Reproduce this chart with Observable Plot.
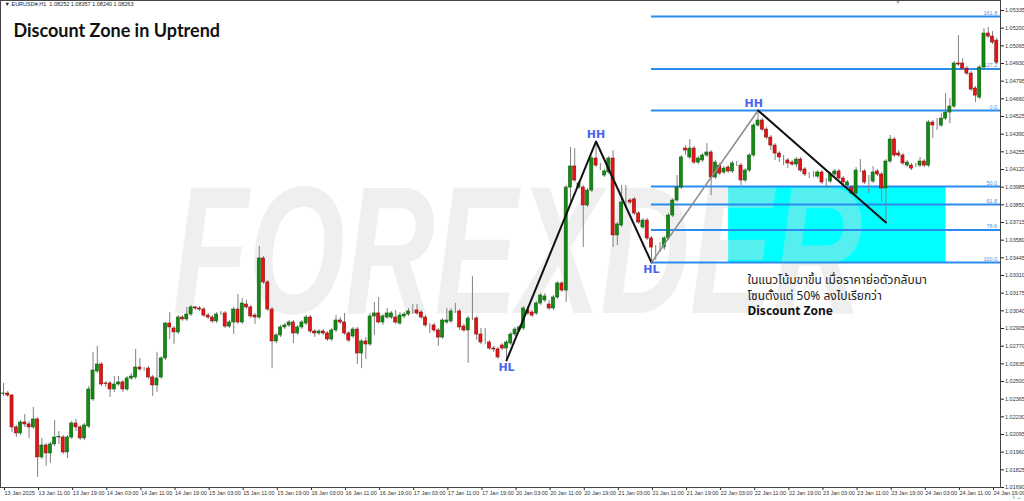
<!DOCTYPE html>
<html><head><meta charset="utf-8">
<script src="https://cdn.jsdelivr.net/npm/d3@7"></script>
<script src="https://cdn.jsdelivr.net/npm/@observablehq/plot@0.6"></script>
<style>
body{margin:0;background:#fff;}
#wrap{width:1024px;height:501px;overflow:hidden;}
</style></head><body><div id="wrap"></div>
<script>
// EURUSD H1 candles, bar index 0 = 13 Jan 03:00
const open=[1.02404,1.02408,1.02393,1.02149,1.02103,1.02187,1.02172,1.02149,1.02210,1.01920,1.02011,1.01950,1.02019,1.02072,1.02072,1.01958,1.02072,1.02179,1.02149,1.02065,1.02156,1.02363,1.02577,1.02630,1.02485,1.02485,1.02439,1.02477,1.02493,1.02439,1.02523,1.02531,1.02607,1.02592,1.02599,1.02531,1.02470,1.02531,1.02676,1.02943,1.02905,1.02875,1.02989,1.02974,1.03012,1.03066,1.03058,1.03050,1.03004,1.02989,1.02959,1.03020,1.03020,1.02920,1.02951,1.03050,1.02951,1.03088,1.03066,1.03004,1.02989,1.03440,1.03257,1.03050,1.02806,1.02852,1.02913,1.02928,1.02951,1.02867,1.02913,1.02943,1.02989,1.02882,1.02867,1.02882,1.02867,1.02821,1.02890,1.02966,1.02951,1.02867,1.02844,1.02897,1.02714,1.02806,1.02783,1.02997,1.03020,1.02951,1.02989,1.02989,1.02989,1.02943,1.02997,1.03012,1.03035,1.03043,1.03027,1.02989,1.02928,1.02928,1.02890,1.02836,1.02951,1.02959,1.03035,1.03035,1.02920,1.02890,1.02981,1.02981,1.02859,1.02798,1.02798,1.02752,1.02745,1.02775,1.02752,1.02790,1.02859,1.02890,1.02905,1.03043,1.03027,1.03020,1.03096,1.03119,1.03088,1.03058,1.03142,1.03249,1.03195,1.03982,1.04143,1.03982,1.03982,1.03845,1.03959,1.04204,1.04150,1.04074,1.04097,1.04204,1.03616,1.03692,1.03868,1.03883,1.03891,1.03784,1.03677,1.03730,1.03593,1.03516,1.03539,1.03524,1.03593,1.03768,1.03883,1.03982,1.04280,1.04212,1.04280,1.04173,1.04189,1.04227,1.04250,1.04059,1.04150,1.04097,1.04135,1.04105,1.04166,1.04150,1.04036,1.04112,1.04227,1.04456,1.04494,1.04425,1.04364,1.04303,1.04242,1.04196,1.04189,1.04173,1.04158,1.04196,1.04120,1.04074,1.04082,1.04066,1.04097,1.04036,1.04028,1.04082,1.04105,1.04051,1.03998,1.03982,1.03936,1.04112,1.04105,1.04028,1.04028,1.04105,1.04082,1.03975,1.04181,1.04349,1.04242,1.04227,1.04150,1.04150,1.04150,1.04150,1.04181,1.04150,1.04479,1.04464,1.04456,1.04509,1.04555,1.04601,1.04930,1.04930,1.04891,1.04853,1.04739,1.04670,1.04899,1.05159,1.05136,1.05105];
const high=[1.02485,1.02424,1.02401,1.02164,1.02202,1.02248,1.02195,1.02302,1.02225,1.02065,1.02026,1.02034,1.02202,1.02118,1.02088,1.02088,1.02195,1.02210,1.02164,1.02179,1.02462,1.02722,1.02768,1.02645,1.02500,1.02500,1.02538,1.02538,1.02508,1.02538,1.02561,1.02745,1.02676,1.02607,1.02615,1.02546,1.02722,1.02691,1.02951,1.03027,1.02920,1.03004,1.03004,1.03066,1.03081,1.03073,1.03073,1.03066,1.03020,1.03004,1.03027,1.03035,1.03035,1.02966,1.03066,1.03165,1.03134,1.03119,1.03081,1.03020,1.03532,1.03455,1.03272,1.03066,1.02867,1.02928,1.02943,1.02966,1.02966,1.02928,1.02966,1.03004,1.03004,1.02897,1.02897,1.02897,1.02882,1.02905,1.03004,1.02989,1.03020,1.02882,1.02913,1.02913,1.02821,1.02836,1.03020,1.03104,1.03142,1.03012,1.03058,1.03035,1.03043,1.03027,1.03027,1.03058,1.03088,1.03088,1.03043,1.03004,1.02943,1.02943,1.02905,1.02981,1.03058,1.03058,1.03096,1.03050,1.02936,1.02997,1.03302,1.02997,1.02905,1.02905,1.02813,1.02768,1.02760,1.02790,1.02813,1.02875,1.02913,1.02928,1.03073,1.03073,1.03043,1.03111,1.03172,1.03172,1.03119,1.03157,1.03264,1.03264,1.03998,1.04288,1.04280,1.04028,1.03998,1.03975,1.04219,1.04334,1.04166,1.04120,1.04219,1.04265,1.03715,1.03998,1.03998,1.03898,1.03906,1.03799,1.03745,1.03745,1.03608,1.03539,1.03562,1.03608,1.03784,1.03898,1.04074,1.04227,1.04303,1.04349,1.04296,1.04219,1.04242,1.04318,1.04265,1.04189,1.04166,1.04143,1.04150,1.04181,1.04181,1.04166,1.04127,1.04242,1.04471,1.04571,1.04509,1.04441,1.04380,1.04318,1.04257,1.04227,1.04204,1.04189,1.04212,1.04212,1.04135,1.04097,1.04105,1.04112,1.04112,1.04051,1.04097,1.04120,1.04120,1.04066,1.04036,1.03998,1.04135,1.04196,1.04120,1.04074,1.04143,1.04120,1.04097,1.04196,1.04380,1.04364,1.04265,1.04242,1.04189,1.04166,1.04166,1.04212,1.04196,1.04494,1.04494,1.04509,1.04548,1.04700,1.04662,1.04945,1.05144,1.04968,1.04907,1.04869,1.04754,1.04914,1.05197,1.05205,1.05174,1.05121];
const low=[1.02386,1.02378,1.02111,1.02072,1.02088,1.02149,1.02065,1.02133,1.01767,1.01904,1.01851,1.01874,1.02004,1.02019,1.01942,1.01912,1.02057,1.02118,1.02049,1.02049,1.02141,1.02347,1.02561,1.02462,1.02454,1.02378,1.02416,1.02462,1.02416,1.02424,1.02508,1.02515,1.02577,1.02577,1.02515,1.02386,1.02416,1.02515,1.02661,1.02821,1.02783,1.02859,1.02959,1.02959,1.02997,1.03043,1.03035,1.02989,1.02974,1.02943,1.02943,1.03004,1.02905,1.02905,1.02859,1.02936,1.02936,1.03050,1.02981,1.02936,1.02974,1.03241,1.03035,1.02599,1.02790,1.02836,1.02897,1.02913,1.02790,1.02852,1.02897,1.02928,1.02867,1.02836,1.02852,1.02852,1.02806,1.02806,1.02875,1.02936,1.02852,1.02798,1.02829,1.02630,1.02599,1.02668,1.02768,1.02852,1.02936,1.02928,1.02974,1.02974,1.02936,1.02928,1.02981,1.02997,1.03012,1.03004,1.02974,1.02913,1.02867,1.02875,1.02768,1.02821,1.02936,1.02943,1.03020,1.02890,1.02875,1.02638,1.02966,1.02813,1.02783,1.02783,1.02737,1.02722,1.02668,1.02737,1.02661,1.02775,1.02844,1.02875,1.02890,1.03004,1.02989,1.03004,1.03081,1.03104,1.03043,1.03043,1.03127,1.03180,1.03104,1.03868,1.04021,1.03967,1.03524,1.03830,1.03944,1.04135,1.04112,1.04059,1.04082,1.03524,1.03539,1.03677,1.03822,1.03852,1.03768,1.03700,1.03661,1.03577,1.03409,1.03425,1.03486,1.03501,1.03577,1.03753,1.03868,1.03967,1.04227,1.04196,1.04158,1.04158,1.04173,1.04212,1.03921,1.04043,1.04074,1.04082,1.04089,1.04089,1.04143,1.03998,1.04021,1.04097,1.04212,1.04441,1.04410,1.04349,1.04265,1.04189,1.04173,1.04150,1.04127,1.04143,1.04135,1.04097,1.04066,1.04051,1.04059,1.04051,1.04005,1.03975,1.04013,1.04066,1.04036,1.04005,1.03959,1.03921,1.03921,1.04097,1.04005,1.03936,1.04013,1.04066,1.03868,1.03715,1.04166,1.04212,1.04212,1.04150,1.04135,1.04112,1.04135,1.04135,1.04135,1.04135,1.04357,1.04418,1.04441,1.04494,1.04471,1.04586,1.04907,1.04876,1.04838,1.04716,1.04632,1.04655,1.04884,1.05121,1.05075,1.04922];
const close=[1.02408,1.02393,1.02149,1.02103,1.02187,1.02172,1.02149,1.02210,1.01920,1.02011,1.01950,1.02019,1.02072,1.02076,1.01958,1.02072,1.02179,1.02149,1.02065,1.02164,1.02439,1.02584,1.02630,1.02477,1.02481,1.02439,1.02477,1.02493,1.02439,1.02523,1.02538,1.02607,1.02592,1.02592,1.02531,1.02470,1.02523,1.02676,1.02943,1.02913,1.02875,1.02989,1.02974,1.03012,1.03066,1.03058,1.03050,1.03004,1.02989,1.02959,1.03012,1.03020,1.02920,1.02951,1.03050,1.02951,1.03096,1.03066,1.02997,1.02989,1.03440,1.03257,1.03050,1.02806,1.02852,1.02913,1.02928,1.02951,1.02867,1.02913,1.02951,1.02989,1.02882,1.02867,1.02882,1.02867,1.02821,1.02890,1.02966,1.02951,1.02867,1.02813,1.02897,1.02714,1.02806,1.02783,1.02997,1.03020,1.02951,1.02997,1.03020,1.03020,1.02951,1.03004,1.03012,1.03035,1.03035,1.03020,1.02989,1.02928,1.02928,1.02890,1.02836,1.02966,1.02966,1.03035,1.03035,1.02913,1.02890,1.02981,1.02981,1.02859,1.02798,1.02798,1.02752,1.02745,1.02684,1.02752,1.02798,1.02859,1.02897,1.02913,1.03058,1.03020,1.03004,1.03096,1.03157,1.03150,1.03058,1.03142,1.03249,1.03195,1.03982,1.04143,1.04036,1.04013,1.03845,1.03959,1.04204,1.04150,1.04150,1.04105,1.04204,1.03616,1.03700,1.03868,1.03868,1.03868,1.03784,1.03715,1.03730,1.03593,1.03524,1.03516,1.03539,1.03593,1.03768,1.03883,1.03982,1.04212,1.04265,1.04280,1.04173,1.04204,1.04227,1.04250,1.04059,1.04173,1.04089,1.04127,1.04105,1.04166,1.04166,1.04036,1.04112,1.04227,1.04456,1.04494,1.04425,1.04364,1.04303,1.04242,1.04212,1.04196,1.04166,1.04158,1.04196,1.04112,1.04082,1.04074,1.04082,1.04097,1.04021,1.04036,1.04082,1.04105,1.04051,1.04021,1.04021,1.03936,1.04112,1.04112,1.04021,1.04028,1.04097,1.04082,1.03975,1.04181,1.04349,1.04227,1.04227,1.04166,1.04173,1.04127,1.04150,1.04181,1.04150,1.04479,1.04456,1.04464,1.04509,1.04555,1.04601,1.04930,1.04922,1.04891,1.04853,1.04731,1.04685,1.04899,1.05159,1.05136,1.05090,1.04937];

const dateLabels=["13 Jan 2025","13 Jan 11:00","13 Jan 19:00","14 Jan 03:00","14 Jan 11:00","14 Jan 19:00","15 Jan 03:00","15 Jan 11:00","15 Jan 19:00","16 Jan 03:00","16 Jan 11:00","16 Jan 19:00","17 Jan 03:00","17 Jan 11:00","17 Jan 19:00","20 Jan 03:00","20 Jan 11:00","20 Jan 19:00","21 Jan 03:00","21 Jan 11:00","21 Jan 19:00","22 Jan 03:00","22 Jan 11:00","22 Jan 19:00","23 Jan 03:00","23 Jan 11:00","23 Jan 19:00","24 Jan 03:00","24 Jan 11:00","24 Jan 19:00"];
const priceTicks=[1.05335,1.05200,1.05065,1.04930,1.04795,1.04660,1.04525,1.04390,1.04255,1.04120,1.03985,1.03850,1.03715,1.03580,1.03445,1.03310,1.03175,1.03040,1.02905,1.02770,1.02635,1.02500,1.02365,1.02230,1.02095,1.01960,1.01825,1.01690];

// Fibonacci drawn between HH (ratio 0) and HL (ratio 1); extensions above HH
const fibRatios=[0,0.5,0.618,0.786,1,-0.272,-0.618];
const fibLabels=["0.0","50.0","61.8","78.6","100.0","127.2","161.8"];
const swingHigh=1.04571, swingLow=1.03409, fibStartBar=152, fibEndBar=233.9;
const zoneStartBar=170.1, zoneEndBar=221.1;

const legBlack1=[{i:118,p:1.02661},{i:139,p:1.04334},{i:152,p:1.03409}];
const legGray=[{i:152,p:1.03409},{i:177,p:1.04571}];
const legBlack2=[{i:177,p:1.04571},{i:207,p:1.03715}];
const swingNames=["HL","HH","HL","HH"];
const swingBars=[118,139,152,176];
const swingPrices=[1.02661,1.04334,1.03409,1.04571];

const titleText="Discount Zone in Uptrend";
const infoText="\u25BC EURUSD#,H1  1.08252 1.08357 1.08240 1.08263";
const noteLines=["ในแนวโน้มขาขึ้น เมื่อราคาย่อตัวกลับมา","โซนตั้งแต่ 50% ลงไปเรียกว่า"];
const noteBold="Discount Zone";
const watermark="FOREXDER";

const candles=open.map((o,i)=>({i,o,h:high[i],l:low[i],c:close[i]}));
const up=candles.filter(d=>d.c>=d.o), down=candles.filter(d=>d.c<d.o);
const fibPrice=r=>swingHigh-r*(swingHigh-swingLow);
const fibRows=fibRatios.map((r,k)=>({p:fibPrice(r),t:fibLabels[k]}));
const swings=swingNames.map((t,k)=>({t,i:swingBars[k],p:swingPrices[k]}));
const W=0.36;
const labelStyle={fontSize:11,fontWeight:"bold",fill:"#4a64f0",fontFamily:"'DejaVu Sans',sans-serif"};

const chart=Plot.plot({
  width:1024,height:501,
  marginTop:0,marginBottom:14,marginLeft:0,marginRight:24,
  style:{fontFamily:"'Liberation Sans',Arial,sans-serif",background:"#fff",color:"#222"},
  x:{domain:[0,232],range:[3,992]},
  y:{domain:[1.0169,1.05335],range:[487,10]},
  marks:[
    Plot.rect([0],{x1:zoneStartBar,x2:zoneEndBar,y1:fibPrice(0.5),y2:fibPrice(1),fill:"#00ffff"}),
    Plot.text([watermark],{frameAnchor:"top-left",dx:172,dy:312,lineAnchor:"bottom",textAnchor:"start",fontSize:182,fontWeight:"bold",fontStyle:"italic",fill:"#d8d8d8",fillOpacity:0.4}),
    Plot.ruleY(fibRows,{y:"p",x1:fibStartBar,x2:fibEndBar,stroke:"#2b8cf0",strokeWidth:2}),
    Plot.text(fibRows,{x:233.1,y:"p",text:"t",textAnchor:"end",dy:-3.5,fontSize:5.5,fill:"#4d94e6"}),
    Plot.ruleX(candles,{x:"i",y1:"l",y2:"h",stroke:"#808080",strokeWidth:1}),
    Plot.rect(up,{x1:d=>d.i-W,x2:d=>d.i+W,y1:"o",y2:"c",fill:"#138a13",stroke:"#0d5e0d",strokeWidth:0.6}),
    Plot.rect(down,{x1:d=>d.i-W,x2:d=>d.i+W,y1:"o",y2:"c",fill:"#e51515",stroke:"#8a0d0d",strokeWidth:0.6}),
    Plot.line(legBlack1,{x:"i",y:"p",stroke:"#111",strokeWidth:2}),
    Plot.line(legGray,{x:"i",y:"p",stroke:"#8c8c8c",strokeWidth:1.5}),
    Plot.line(legBlack2,{x:"i",y:"p",stroke:"#111",strokeWidth:2}),
    Plot.text(swings.filter(d=>d.t==="HH"),{x:"i",y:"p",text:"t",lineAnchor:"bottom",dy:-3,...labelStyle}),
    Plot.text(swings.filter(d=>d.t==="HL"),{x:"i",y:"p",text:"t",lineAnchor:"top",dy:3,...labelStyle}),
    Plot.axisY({anchor:"right",ticks:priceTicks,tickFormat:d=>d.toFixed(5),tickSize:3,tickPadding:1.5,fontSize:5.5,fill:"#333"}),
    Plot.axisX({anchor:"bottom",ticks:d3.range(0,233,8),tickFormat:i=>dateLabels[i/8],tickSize:3,tickPadding:1,textAnchor:"start",dx:1,fontSize:5.5,fill:"#333"}),
    Plot.frame({stroke:"#444",strokeWidth:1}),
    Plot.text([titleText],{frameAnchor:"top-left",dx:13,dy:24,fontSize:18,fontWeight:"bold",fill:"#111",fontFamily:"Lato,sans-serif"}),
    Plot.text([infoText],{frameAnchor:"top-left",dx:4,dy:2,fontSize:5.5,fill:"#222"}),
    Plot.text(["\u25BC"],{frameAnchor:"top-left",dx:895,dy:0,fontSize:5,fill:"#999"}),
    Plot.text([noteLines.join("\n")],{frameAnchor:"top-left",dx:747,dy:272,lineHeight:1.35,fontSize:12,fill:"#222",fontFamily:"'Noto Sans Thai','Noto Sans',Tahoma,sans-serif"}),
    Plot.text([noteBold],{frameAnchor:"top-left",dx:747,dy:306,fontSize:12,fontWeight:"bold",fill:"#111",fontFamily:"'Noto Sans',sans-serif"})
  ]
});
d3.select(chart).selectAll("text").filter(function(){return this.textContent===watermark;})
  .attr("textLength",690).attr("lengthAdjust","spacingAndGlyphs");
document.getElementById("wrap").appendChild(chart);
</script></body></html>
